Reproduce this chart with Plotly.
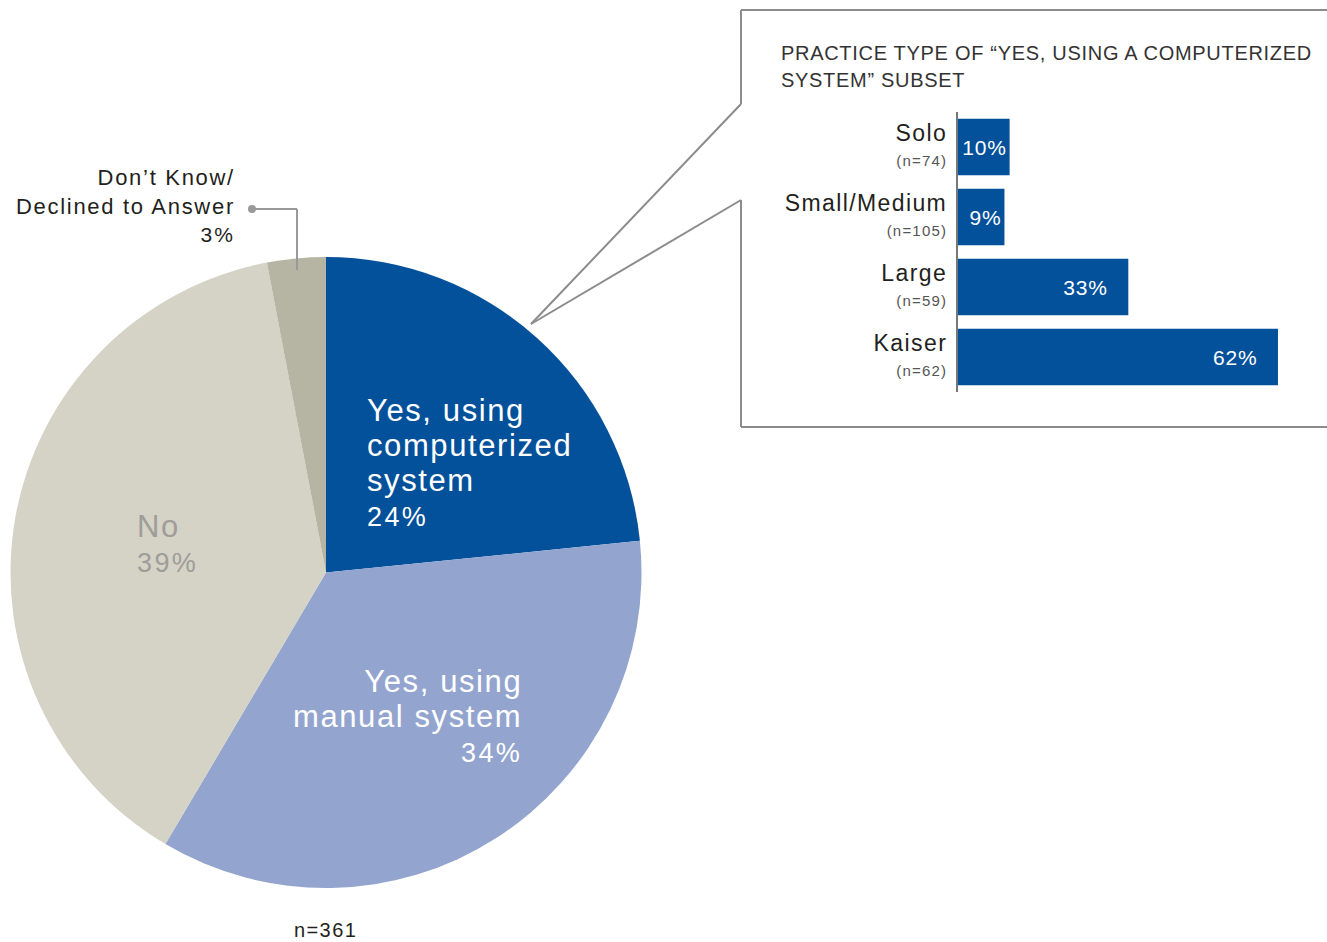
"""
Pie of tracking-system use, with a callout bar chart of the
"Yes, using a computerized system" subset by practice type.
"""
import plotly.graph_objects as go

# ── Data ─────────────────────────────────────────────────────────────────
pie_labels = ["Yes, using computerized system", "Yes, using manual system",
              "No", "Don't Know/Declined to Answer"]
pie_values = [23.4, 35.1, 38.5, 3.0]      # slice sizes as drawn
pie_pct_labels = [24, 34, 39, 3]          # printed percentages
pie_colors = ["#03519B", "#93A5CF", "#D5D3C6", "#B6B5A4"]

practice_types = ["Solo", "Small/Medium", "Large", "Kaiser"]
practice_n = [74, 105, 59, 62]
practice_pct = [10, 9, 33, 62]

W, H = 1327, 942
FONT = "Liberation Sans, Arial"
BLUE = "#03519B"
INK = "#231F20"


def px(x):
    return x / W


def py(y):
    return 1 - y / H


def sp(text, size, ls=0.0, color=None):
    style = f"font-size:{size}px;letter-spacing:{ls}px"
    if color:
        style += f";color:{color}"
    return f"<span style='{style}'>{text}</span>"


fig = go.Figure()

fig.add_trace(go.Pie(
    labels=pie_labels,
    values=pie_values,
    marker=dict(colors=pie_colors, line=dict(width=0)),
    sort=False,
    direction="clockwise",
    rotation=0,
    textinfo="none",
    customdata=pie_pct_labels,
    hovertemplate="%{label}: %{customdata}%<extra></extra>",
    showlegend=False,
    domain=dict(x=[px(10), px(642)], y=[py(888), py(257)]),
))

tick_text = [sp(t, 23, 1.4) + "<br>" + sp(f"(n={n})", 15, 1.2, "#555555")
             for t, n in zip(practice_types, practice_n)]
NB = "\u00a0"
bar_text = [sp(f"{v}%", 21, 0.8) + (NB * 3 if v > 20 else "")
            for v in practice_pct]

fig.add_trace(go.Bar(
    x=practice_pct,
    y=practice_types,
    orientation="h",
    marker=dict(color=BLUE, line=dict(width=0)),
    width=0.81,
    text=bar_text,
    textposition="inside",
    insidetextanchor="end",
    textfont=dict(size=21, color="white", family=FONT),
    hovertemplate="%{y}: %{x}%<extra></extra>",
    showlegend=False,
))

# ── Pie labels ───────────────────────────────────────────────────────────
big = lambda t: sp(t, 31, 1.6)
pct = lambda v: sp(f"{v}%", 27, 2.4)
annos = [
    dict(x=px(365), y=py(462), xanchor="left", yanchor="middle", align="left",
         text="<br>".join([big("Yes, using"), big("computerized"),
                           big("system"), pct(pie_pct_labels[0])]),
         font=dict(size=27, color="white", family=FONT)),
    dict(x=px(524), y=py(716), xanchor="right", yanchor="middle", align="right",
         text="<br>".join([big("Yes, using"), big("manual system"),
                           pct(pie_pct_labels[1])]),
         font=dict(size=27, color="white", family=FONT)),
    dict(x=px(135), y=py(543), xanchor="left", yanchor="middle", align="left",
         text="<br>".join([big("No"), pct(pie_pct_labels[2])]),
         font=dict(size=27, color="#9E9D98", family=FONT)),
    dict(x=px(237), y=py(205), xanchor="right", yanchor="middle", align="right",
         text="<br>".join([sp("Don’t Know/", 22, 1.7),
                           sp("Declined to Answer", 22, 1.7),
                           sp(f"{pie_pct_labels[3]}%", 21, 2.0)]),
         font=dict(size=22, color=INK, family=FONT)),
    dict(x=px(325), y=py(930), xanchor="center", yanchor="middle",
         text=sp("n=361", 20, 1.4), font=dict(size=20, color=INK, family=FONT)),
    dict(x=px(779), y=py(67), xanchor="left", yanchor="middle", align="left",
         text="<br>".join([sp("PRACTICE TYPE OF “YES, USING A COMPUTERIZED", 20, 0.7),
                           sp("SYSTEM” SUBSET", 20, 0.7)]),
         font=dict(size=21, color="#333333", family=FONT)),
]
for a in annos:
    a.update(xref="paper", yref="paper", showarrow=False)

# ── Callout box and leader lines ─────────────────────────────────────────
GRAY = "#8C8C8C"
line = dict(color=GRAY, width=2)
shapes = [
    dict(type="line", x0=px(741), y0=py(10), x1=1.01, y1=py(10), line=line),
    dict(type="line", x0=px(741), y0=py(427), x1=1.01, y1=py(427), line=line),
    dict(type="line", x0=px(741), y0=py(10), x1=px(741), y1=py(104), line=line),
    dict(type="line", x0=px(741), y0=py(200), x1=px(741), y1=py(427), line=line),
    dict(type="line", x0=px(741), y0=py(104), x1=px(531), y1=py(324), line=line),
    dict(type="line", x0=px(741), y0=py(200), x1=px(531), y1=py(324), line=line),
    # Don't Know leader
    dict(type="line", x0=px(252), y0=py(209), x1=px(297), y1=py(209),
         line=dict(color="#999999", width=2)),
    dict(type="line", x0=px(297), y0=py(209), x1=px(297), y1=py(270),
         line=dict(color="#999999", width=2)),
    dict(type="circle", x0=px(248), y0=py(205), x1=px(256), y1=py(213),
         fillcolor="#999999", line=dict(width=0)),
]
for s in shapes:
    s.update(xref="paper", yref="paper")

fig.update_layout(
    width=W, height=H,
    margin=dict(l=0, r=0, t=0, b=0),
    paper_bgcolor="white",
    plot_bgcolor="rgba(0,0,0,0)",
    font=dict(family=FONT, color=INK),
    xaxis=dict(domain=[px(958), 1.0], range=[0, 71.5], visible=False,
               fixedrange=True),
    yaxis=dict(domain=[py(392), py(112)], autorange="reversed",
               showline=True, linecolor="#777777", linewidth=2,
               showgrid=False, zeroline=False, ticks="",
               tickmode="array", tickvals=practice_types, ticktext=tick_text,
               tickfont=dict(size=19, color=INK, family=FONT),
               ticklabelstandoff=5, fixedrange=True),
    annotations=annos,
    shapes=shapes,
)

fig.write_html("out.html", config={"displayModeBar": False},
               post_script="document.body.style.margin='0';")
